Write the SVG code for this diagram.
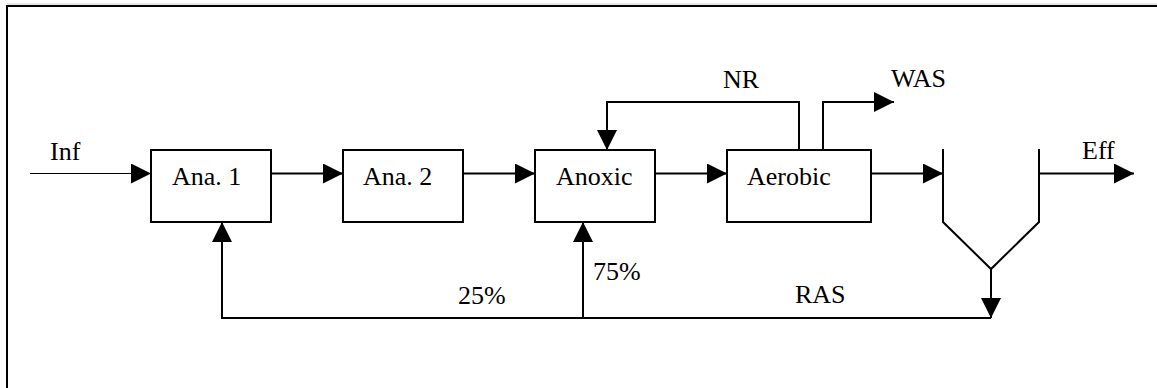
<svg xmlns="http://www.w3.org/2000/svg" width="1157" height="388" viewBox="0 0 1157 388">
  <style>
    text { font-family: "Liberation Serif", "Times New Roman", Tinos, "DejaVu Serif", serif; font-size: 26px; fill: #000; }
    .box { fill: #fff; stroke: #000; stroke-width: 2; }
    .line { fill: none; stroke: #000; stroke-width: 2; }
    .thin { fill: none; stroke: #000; stroke-width: 1; }
  </style>
  <defs>
    <marker id="arrow" viewBox="0 0 20 20" refX="20" refY="10" markerWidth="20" markerHeight="20" markerUnits="userSpaceOnUse" orient="auto">
      <path d="M0,0 L20,10 L0,20 Z" fill="#000"/>
    </marker>
  </defs>

  <rect width="1157" height="388" fill="#fff"/>

  <!-- frame -->
  <g id="frame">
    <line x1="7" y1="4" x2="1157" y2="4" stroke="#ccc" stroke-width="1"/>
    <path class="line" d="M7,388 V6 H1157"/>
  </g>

  <!-- process tanks -->
  <g id="ana1">
    <rect class="box" x="151" y="150" width="120" height="72"/>
    <text x="172" y="185" font-family="Liberation Serif, serif">Ana. 1</text>
  </g>
  <g id="ana2">
    <rect class="box" x="343" y="150" width="120" height="72"/>
    <text x="363" y="185">Ana. 2</text>
  </g>
  <g id="anoxic">
    <rect class="box" x="535" y="150" width="120" height="72"/>
    <text x="556" y="185">Anoxic</text>
  </g>
  <g id="aerobic">
    <rect class="box" x="727" y="150" width="144" height="72"/>
    <text x="747" y="185">Aerobic</text>
  </g>

  <!-- clarifier -->
  <g id="clarifier">
    <path class="line" d="M943,149 V222 L991,269 L1039,222 V149"/>
  </g>

  <!-- connectors -->
  <g id="connectors">
    <path class="thin" d="M30,173.5 H151" marker-end="url(#arrow)"/>
    <path class="line" d="M271,173.5 H343" marker-end="url(#arrow)"/>
    <path class="line" d="M463,173.5 H535" marker-end="url(#arrow)"/>
    <path class="line" d="M655,173.5 H727" marker-end="url(#arrow)"/>
    <path class="line" d="M871,173.5 H943" marker-end="url(#arrow)"/>
    <path class="line" d="M1039,173.5 H1134" marker-end="url(#arrow)"/>
    <!-- nitrate recycle -->
    <path class="line" d="M799,150 V102 H607 V150" marker-end="url(#arrow)"/>
    <!-- waste sludge -->
    <path class="line" d="M823,150 V102 H894" marker-end="url(#arrow)"/>
    <!-- return sludge -->
    <path class="line" d="M991,269 V318" marker-end="url(#arrow)"/>
    <path class="line" d="M991,318 H222 V222" marker-end="url(#arrow)"/>
    <path class="line" d="M583,318 V222" marker-end="url(#arrow)"/>
  </g>

  <!-- labels -->
  <g id="labels">
    <text x="50" y="160">Inf</text>
    <text x="723" y="88">NR</text>
    <text x="891" y="87">WAS</text>
    <text x="1082" y="159">Eff</text>
    <text x="593" y="280">75%</text>
    <text x="458" y="304">25%</text>
    <text x="795" y="303">RAS</text>
  </g>
</svg>
